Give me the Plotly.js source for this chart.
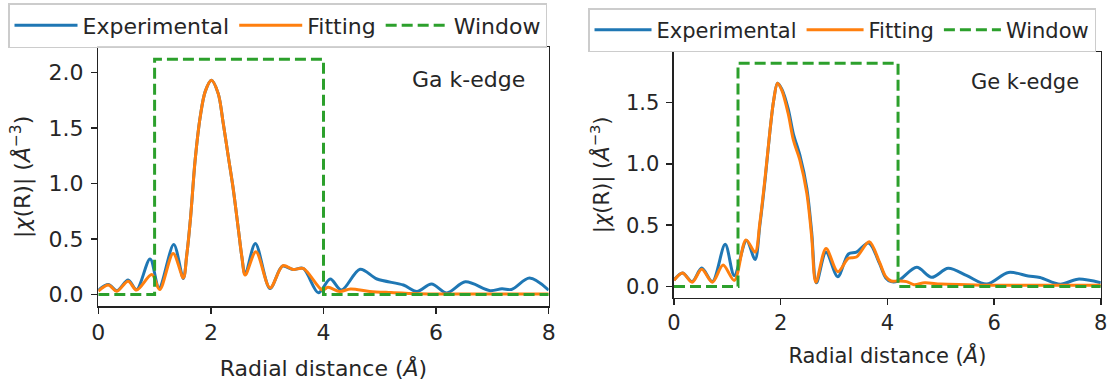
<!DOCTYPE html>
<html>
<head>
<meta charset="utf-8">
<script src="https://cdn.plot.ly/plotly-3.0.1.min.js"></script>
<style>
html,body{margin:0;padding:0;background:#fff;}
#chart{width:1112px;height:387px;}
</style>
</head>
<body>
<div id="chart"></div>
<script>
// ---- Ga k-edge ----
const gaExpR   = [0.00,0.18,0.33,0.53,0.68,0.92,1.08,1.34,1.51,1.57,1.64,1.72,1.81,1.90,2.01,2.13,2.22,2.31,2.40,2.49,2.55,2.61,2.79,3.05,3.27,3.46,3.64,3.91,4.12,4.32,4.65,4.95,5.42,5.66,5.92,6.19,6.52,6.96,7.17,7.34,7.66,8.00];
const gaExpChi = [0.04,0.09,0.035,0.13,0.045,0.32,0.06,0.45,0.145,0.35,0.70,1.21,1.60,1.83,1.93,1.81,1.54,1.24,0.94,0.58,0.34,0.18,0.46,0.055,0.255,0.225,0.235,0.016,0.14,0.04,0.228,0.14,0.086,0.028,0.095,0.015,0.115,0.035,0.052,0.046,0.148,0.04];
const gaFitR   = [0.00,0.18,0.33,0.53,0.68,0.95,1.09,1.33,1.51,1.57,1.64,1.72,1.81,1.90,2.01,2.13,2.22,2.31,2.40,2.49,2.55,2.61,2.80,3.05,3.28,3.46,3.64,3.98,4.08,4.29,4.48,4.82,5.20,5.70,6.50,7.50,8.00];
const gaFitChi = [0.03,0.085,0.03,0.12,0.04,0.18,0.045,0.37,0.15,0.35,0.70,1.21,1.60,1.83,1.93,1.81,1.54,1.24,0.94,0.58,0.34,0.175,0.385,0.06,0.26,0.225,0.235,0.04,0.065,0.028,0.05,0.028,0.018,0.008,0.005,0.004,0.004];
const gaWinR   = [0, 1, 1, 4, 4, 8];
const gaWin    = [0, 0, 2.12, 2.12, 0, 0];

// ---- Ge k-edge ----
const geExpR   = [0.00,0.16,0.34,0.52,0.72,0.96,1.13,1.36,1.52,1.61,1.71,1.80,1.87,1.94,2.02,2.14,2.24,2.36,2.49,2.58,2.67,2.85,3.07,3.27,3.42,3.65,3.85,3.97,4.07,4.20,4.55,4.83,5.14,5.49,5.86,6.27,6.64,6.86,7.24,7.57,8.00];
const geExpChi = [0.053,0.11,0.04,0.15,0.04,0.345,0.09,0.375,0.22,0.50,0.88,1.27,1.52,1.656,1.61,1.45,1.24,1.07,0.80,0.45,0.03,0.28,0.08,0.265,0.28,0.355,0.19,0.07,0.04,0.045,0.156,0.075,0.148,0.088,0.02,0.115,0.086,0.074,0.018,0.06,0.03];
const geFitR   = [0.00,0.16,0.34,0.52,0.72,0.92,1.13,1.35,1.52,1.61,1.71,1.80,1.87,1.94,2.02,2.14,2.24,2.36,2.49,2.58,2.66,2.85,3.07,3.27,3.42,3.66,3.85,3.97,4.07,4.20,4.36,4.50,4.70,5.00,5.50,6.00,7.00,8.00];
const geFitChi = [0.05,0.11,0.035,0.14,0.035,0.175,0.05,0.38,0.28,0.52,0.895,1.275,1.52,1.656,1.60,1.41,1.19,1.03,0.76,0.41,0.035,0.31,0.12,0.23,0.24,0.365,0.20,0.08,0.045,0.045,0.04,0.015,0.03,0.02,0.015,0.01,0.01,0.01];
const geWinR   = [0, 1.2, 1.2, 4.2, 4.2, 8];
const geWin    = [0, 0, 1.82, 1.82, 0, 0];

const xTicks = [0, 2, 4, 6, 8];
const gaYTicks = [0, 0.5, 1.0, 1.5, 2.0];
const geYTicks = [0, 0.5, 1.0, 1.5];
const seriesNames = ['Experimental', 'Fitting', 'Window'];
const panelLabels = ['Ga k-edge', 'Ge k-edge'];

const C = {blue:'#1f77b4', orange:'#ff7f0e', green:'#2ca02c', text:'#262626', axis:'#222222'};
const FONT = 'DejaVu Sans, sans-serif';

function traces(xs, ys, xa, ya, leg) {
  return [
    {x: xs[0], y: ys[0], xaxis: xa, yaxis: ya, legend: leg, name: seriesNames[0], type: 'scatter', mode: 'lines',
     line: {color: C.blue, width: 3, shape: 'spline', smoothing: 0.9}},
    {x: xs[1], y: ys[1], xaxis: xa, yaxis: ya, legend: leg, name: seriesNames[1], type: 'scatter', mode: 'lines',
     line: {color: C.orange, width: 3, shape: 'spline', smoothing: 0.9}},
    {x: xs[2], y: ys[2], xaxis: xa, yaxis: ya, legend: leg, name: seriesNames[2], type: 'scatter', mode: 'lines',
     line: {color: C.green, width: 3, dash: '11px,5px'}}
  ];
}

const data = [
  ...traces([gaExpR, gaFitR, gaWinR], [gaExpChi, gaFitChi, gaWin], 'x', 'y', 'legend'),
  ...traces([geExpR, geFitR, geWinR], [geExpChi, geFitChi, geWin], 'x2', 'y2', 'legend2')
];

function xAxis(domain, anchor, fs, standoff) {
  return {
    domain: domain, anchor: anchor, range: [0, 8], tickvals: xTicks, ticktext: xTicks.map(String),
    ticks: 'outside', ticklen: 6, tickwidth: 1.5, tickcolor: C.axis,
    showline: true, mirror: true, linecolor: C.axis, linewidth: 1.5,
    showgrid: false, zeroline: false,
    tickfont: {family: FONT, size: fs, color: C.text},
    title: {text: 'Radial distance (<i>Å</i>)', font: {family: FONT, size: fs, color: C.text}, standoff: standoff}
  };
}
function yAxis(domain, anchor, range, ticks, fs, standoff) {
  return {
    domain: domain, anchor: anchor, range: range, tickvals: ticks, tickformat: '.1f',
    ticks: 'outside', ticklen: 6, tickwidth: 1.5, tickcolor: C.axis, ticklabelstandoff: 3,
    showline: true, mirror: true, linecolor: C.axis, linewidth: 1.5,
    showgrid: false, zeroline: false,
    tickfont: {family: FONT, size: fs, color: C.text},
    title: {text: '|<i>χ</i>(R)| (<i>Å</i><sup>−3</sup>)', font: {family: FONT, size: fs, color: C.text}, standoff: standoff}
  };
}

const legendBase = {
  orientation: 'h', xanchor: 'left', yanchor: 'top',
  bgcolor: 'rgba(255,255,255,0.8)', bordercolor: '#cccccc', borderwidth: 1.5
};

const layout = {
  width: 1112, height: 387,
  margin: {l: 0, r: 0, t: 0, b: 0, autoexpand: false},
  paper_bgcolor: '#ffffff', plot_bgcolor: '#ffffff',
  font: {family: FONT, size: 22, color: C.text},
  showlegend: true,
  xaxis: xAxis([0.0884, 0.4934], 'y', 22, 16),
  yaxis: yAxis([0.2085, 0.8775], 'x', [-0.106, 2.226], gaYTicks, 22, 11),
  xaxis2: xAxis([0.6061, 0.9899], 'y2', 21, 14),
  yaxis2: yAxis([0.2308, 0.8656], 'x2', [-0.091, 1.911], geYTicks, 21, 10),
  legend: Object.assign({}, legendBase, {x: 0.0072, y: 0.9922, itemwidth: 63,
    font: {family: FONT, size: 22, color: C.text}}),
  legend2: Object.assign({}, legendBase, {x: 0.5288, y: 0.9793, itemwidth: 57,
    font: {family: FONT, size: 21, color: C.text}}),
  annotations: [
    {text: panelLabels[0], xref: 'paper', yref: 'paper', x: 468/1112, y: 1 - 79/387, xanchor: 'center', yanchor: 'middle',
     showarrow: false, font: {family: FONT, size: 22, color: C.text}},
    {text: panelLabels[1], xref: 'paper', yref: 'paper', x: 1025/1112, y: 1 - 82/387, xanchor: 'center', yanchor: 'middle',
     showarrow: false, font: {family: FONT, size: 21, color: C.text}}
  ]
};

Plotly.newPlot('chart', data, layout, {displayModeBar: false, staticPlot: true});
</script>
</body>
</html>
